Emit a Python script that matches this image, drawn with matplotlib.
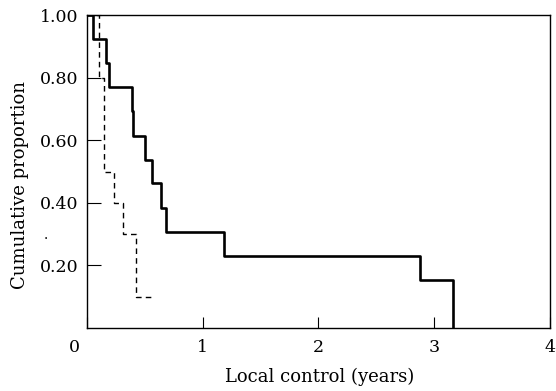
"""Kaplan-Meier style local control curves."""

import matplotlib
matplotlib.use("Agg")
import matplotlib.pyplot as plt
import matplotlib.transforms as mtransforms

# solid curve: event times (years) and cumulative proportion after each step
solid_times = [0.0, 0.05, 0.16, 0.19, 0.39, 0.40, 0.50, 0.56, 0.64, 0.68, 1.18, 2.88, 3.16]
solid_props = [1.00, 0.923, 0.846, 0.769, 0.692, 0.615, 0.538, 0.462, 0.385, 0.308, 0.231, 0.154, 0.0]

# dashed curve
dashed_times = [0.0, 0.10, 0.15, 0.23, 0.31, 0.42, 0.55]
dashed_props = [1.00, 0.80, 0.50, 0.40, 0.30, 0.10, 0.10]

x_ticks = [0, 1, 2, 3, 4]
y_ticks = [0.20, 0.40, 0.60, 0.80, 1.00]
y_tick_labels = ["0.20", "0.40", "0.60", "0.80", "1.00"]

plt.rcParams["font.family"] = ["DejaVu Serif"]

fig = plt.figure(figsize=(5.56, 3.91), dpi=100)
ax = fig.add_axes([0.1565, 0.161, 0.8325, 0.8006])

ax.step(solid_times, solid_props, where="post", color="black", linewidth=1.9)
ax.step(dashed_times, dashed_props, where="post", color="black", linewidth=1.0,
        linestyle=(0, (4, 3)))

ax.set_xlim(0, 4)
ax.set_ylim(0, 1.0)
ax.set_xticks(x_ticks)
ax.set_xticklabels([str(t) for t in x_ticks], fontsize=12.5)
ax.set_yticks(y_ticks)
ax.set_yticklabels(y_tick_labels, fontsize=12.5)
ax.tick_params(axis="x", direction="in", length=8, width=0.8, pad=8)
ax.tick_params(axis="y", direction="in", length=10, width=0.8, pad=6)

# the origin "0" sits left of the corner in the original
zero_label = ax.get_xticklabels()[0]
zero_label.set_transform(zero_label.get_transform()
                         + mtransforms.ScaledTranslation(-13 / 100, 0, fig.dpi_scale_trans))

for side in ("top", "right", "left", "bottom"):
    ax.spines[side].set_linewidth(1.0)

ax.set_xlabel("Local control (years)", fontsize=13, va="center")
ax.set_ylabel("Cumulative proportion", fontsize=13, va="center")
ax.xaxis.set_label_coords(0.502, -0.157)
ax.yaxis.set_label_coords(-0.145, 0.457)

# speck next to the axis label in the original
fig.text(46 / 556, 1 - 235 / 391, ".", fontsize=10, ha="center", va="center")

fig.savefig("out.png", dpi=100)
